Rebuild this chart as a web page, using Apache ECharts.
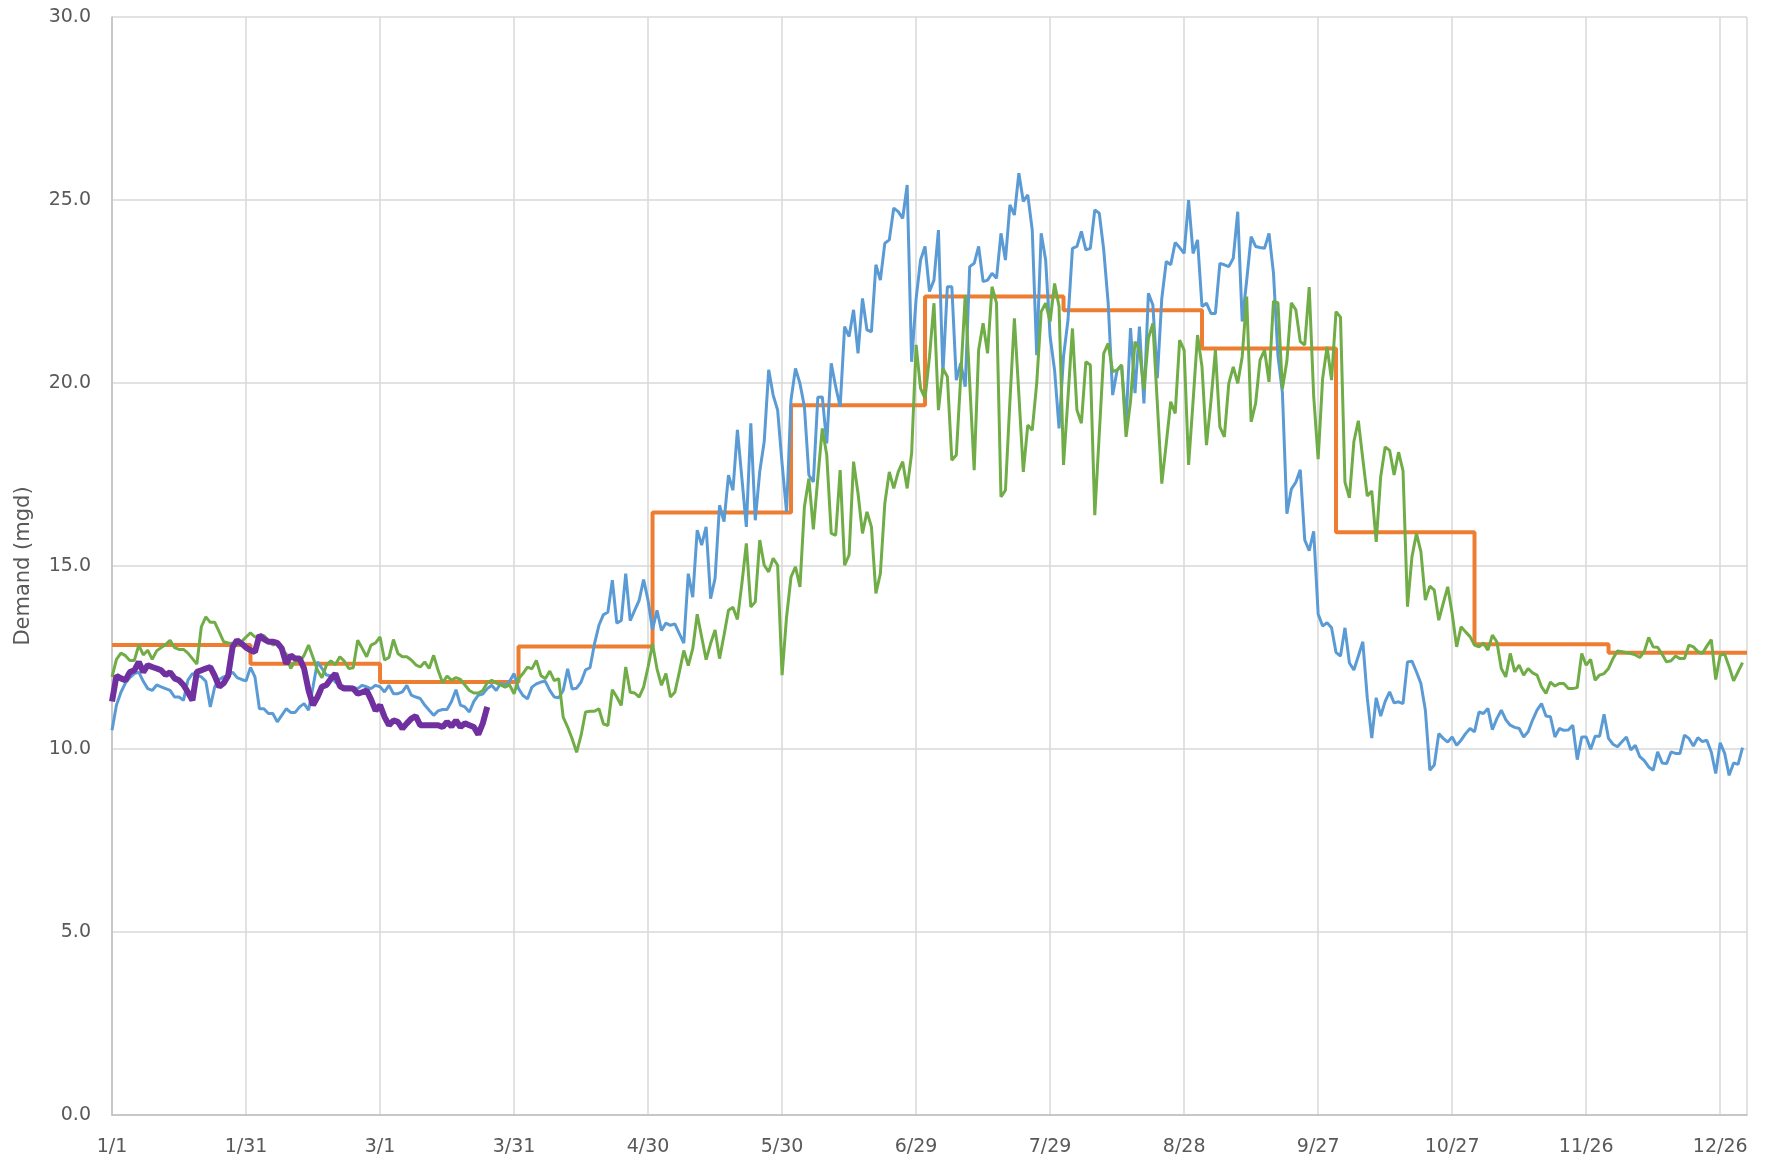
<!DOCTYPE html>
<html>
<head>
<meta charset="utf-8">
<script src="https://cdn.jsdelivr.net/npm/echarts@6/dist/echarts.min.js"></script>
<style>
html,body{margin:0;padding:0;background:#fff;}
#chart{width:1767px;height:1163px;}
</style>
</head>
<body>
<div id="chart"></div>
<script>
// x tick labels (every 30 days from 1/1, leap year)
const xTickLabels = ['1/1','1/31','3/1','3/31','4/30','5/30','6/29','7/29','8/28','9/27','10/27','11/26','12/26'];

// first day (day index) of each month and monthly values (orange step line)
const monthStartDays = [0, 31, 60, 91, 121, 152, 182, 213, 244, 274, 305, 335, 366];
const monthlyValues = [12.84, 12.33, 11.83, 12.80, 16.46, 19.39, 22.36, 21.99, 20.94, 15.92, 12.86, 12.63];

// daily values, day 0 = 1/1
const blueDaily = [
10.51, 11.2, 11.55, 11.8, 11.95, 12.06, 12.1, 11.85, 11.65, 11.6,
11.75, 11.7, 11.65, 11.6, 11.42, 11.42, 11.33, 11.88, 12.06, 12.02,
11.97, 11.85, 11.15, 11.7, 11.9, 11.97, 12.02, 12.1, 11.95, 11.9,
11.86, 12.23, 11.97, 11.1, 11.1, 10.97, 10.97, 10.74, 10.92, 11.1,
11.0, 11.0, 11.15, 11.24, 11.06, 11.7, 12.38, 12.2, 12.02, 12.0,
11.83, 11.74, 11.7, 11.7, 11.68, 11.65, 11.74, 11.7, 11.65, 11.74,
11.7, 11.56, 11.74, 11.51, 11.51, 11.56, 11.74, 11.47, 11.42, 11.38,
11.2, 11.06, 10.92, 11.04, 11.08, 11.08, 11.3, 11.62, 11.2, 11.15,
11.01, 11.3, 11.47, 11.5, 11.65, 11.74, 11.6, 11.79, 11.74, 11.85,
12.06, 11.65, 11.46, 11.37, 11.69, 11.78, 11.83, 11.85, 11.6, 11.42,
11.4, 11.6, 12.19, 11.64, 11.66, 11.83, 12.16, 12.22, 12.87, 13.38,
13.67, 13.74, 14.61, 13.44, 13.51, 14.79, 13.51, 13.79, 14.06, 14.63,
14.06, 13.26, 13.79, 13.24, 13.44, 13.38, 13.42, 13.15, 12.89, 14.79,
14.15, 15.98, 15.57, 16.07, 14.11, 14.66, 16.66, 16.21, 17.48, 17.07,
18.72, 17.4, 16.07, 18.9, 16.25, 17.58, 18.4, 20.36, 19.67, 19.26,
17.8, 16.48, 19.54, 20.4, 19.99, 19.35, 17.48, 17.3, 19.61, 19.62,
18.35, 20.54, 19.9, 19.35, 21.54, 21.27, 22.0, 20.81, 22.31, 21.45,
21.4, 23.23, 22.81, 23.82, 23.91, 24.78, 24.68, 24.5, 25.41, 20.58,
22.3, 23.36, 23.73, 22.5, 22.81, 24.18, 20.26, 22.63, 22.63, 20.08,
20.54, 19.9, 23.18, 23.27, 23.73, 22.77, 22.81, 23.0, 22.86, 24.09,
23.36, 24.87, 24.59, 25.73, 24.96, 25.14, 24.18, 20.76, 24.09, 23.36,
21.27, 20.35, 18.76, 20.72, 21.72, 23.68, 23.73, 24.14, 23.64, 23.68,
24.73, 24.64, 23.64, 22.18, 19.67, 20.35, 20.49, 18.9, 21.5, 19.72,
21.54, 19.44, 22.45, 22.13, 20.13, 22.31, 23.32, 23.23, 23.84, 23.7,
23.54, 25.0, 23.54, 23.91, 22.09, 22.18, 21.9, 21.9, 23.27, 23.23,
23.18, 23.41, 24.68, 21.68, 22.8, 24.0, 23.73, 23.7, 23.68, 24.09,
23.0, 20.75, 19.74, 16.43, 17.1, 17.29, 17.63, 15.71, 15.42, 15.95,
13.69, 13.36, 13.45, 13.31, 12.64, 12.54, 13.31, 12.35, 12.16, 12.54,
12.93, 11.39, 10.3, 11.4, 10.9, 11.3, 11.56, 11.26, 11.29, 11.24,
12.38, 12.4, 12.11, 11.79, 11.06, 9.42, 9.56, 10.42, 10.29, 10.19,
10.33, 10.1, 10.24, 10.42, 10.56, 10.47, 11.01, 10.97, 11.11, 10.53,
10.83, 11.06, 10.8, 10.65, 10.59, 10.56, 10.33, 10.47, 10.79, 11.06,
11.24, 10.9, 10.88, 10.33, 10.56, 10.51, 10.52, 10.65, 9.71, 10.33,
10.33, 9.99, 10.35, 10.35, 10.95, 10.29, 10.13, 10.06, 10.2, 10.33,
9.97, 10.1, 9.79, 9.68, 9.51, 9.42, 9.92, 9.62, 9.6, 9.92,
9.88, 9.88, 10.38, 10.29, 10.08, 10.31, 10.2, 10.24, 9.92, 9.33,
10.17, 9.88, 9.28, 9.62, 9.58, 10.04
];

const greenDaily = [
11.97, 12.45, 12.62, 12.55, 12.42, 12.42, 12.84, 12.57, 12.7, 12.45,
12.68, 12.77, 12.85, 12.97, 12.77, 12.72, 12.72, 12.62, 12.47, 12.32,
13.34, 13.61, 13.46, 13.46, 13.2, 12.93, 12.9, 12.88, 12.84, 12.93,
13.06, 13.17, 13.06, 13.08, 13.1, 12.97, 12.84, 12.9, 12.7, 12.6,
12.2, 12.4, 12.38, 12.56, 12.84, 12.5, 12.15, 11.95, 12.29, 12.41,
12.3, 12.52, 12.4, 12.2, 12.22, 12.97, 12.75, 12.52, 12.84, 12.9,
13.06, 12.43, 12.5, 12.99, 12.61, 12.52, 12.52, 12.43, 12.3, 12.24,
12.38, 12.2, 12.56, 12.15, 11.81, 11.99, 11.88, 11.95, 11.9, 11.75,
11.6, 11.53, 11.53, 11.6, 11.81, 11.88, 11.8, 11.75, 11.69, 11.75,
11.51, 11.92, 12.06, 12.24, 12.19, 12.42, 12.01, 11.92, 12.13, 11.87,
11.92, 10.87, 10.6, 10.28, 9.91, 10.37, 11.01, 11.03, 11.03, 11.1,
10.69, 10.64, 11.62, 11.42, 11.19, 12.24, 11.55, 11.53, 11.42, 11.69,
12.24, 12.87, 12.19, 11.74, 12.06, 11.42, 11.55, 12.1, 12.69, 12.28,
12.74, 13.68, 13.06, 12.44, 12.88, 13.25, 12.47, 13.11, 13.79, 13.87,
13.54, 14.52, 15.62, 13.88, 14.02, 15.71, 15.02, 14.84, 15.21, 15.02,
12.02, 13.6, 14.7, 14.98, 14.43, 16.62, 17.39, 16.0, 17.4, 18.76,
18.03, 15.89, 15.84, 17.62, 15.02, 15.3, 17.85, 16.98, 15.89, 16.48,
16.07, 14.25, 14.79, 16.71, 17.57, 17.12, 17.57, 17.85, 17.12, 18.08,
21.04, 19.85, 19.58, 20.72, 22.18, 19.26, 20.4, 20.17, 17.89, 18.03,
20.2, 22.4, 20.0, 17.62, 20.9, 21.63, 20.81, 22.63, 22.18, 16.89,
17.07, 19.5, 21.77, 19.7, 17.57, 18.85, 18.71, 19.99, 21.95, 22.18,
21.68, 22.72, 22.09, 17.76, 19.6, 21.49, 19.26, 18.9, 20.58, 20.49,
16.39, 18.6, 20.81, 21.08, 20.31, 20.35, 20.49, 18.53, 19.5, 21.13,
20.9, 19.81, 21.22, 21.63, 19.44, 17.25, 18.35, 19.49, 19.17, 21.17,
20.9, 17.76, 19.5, 21.31, 20.44, 18.3, 19.5, 20.9, 18.8, 18.53,
19.99, 20.44, 19.99, 20.72, 22.36, 18.94, 19.44, 20.63, 20.9, 20.03,
22.24, 22.19, 19.84, 20.6, 22.19, 22.0, 21.13, 21.04, 22.62, 19.64,
17.92, 20.12, 20.99, 20.08, 21.95, 21.8, 17.29, 16.86, 18.4, 18.97,
17.92, 16.91, 17.05, 15.66, 17.44, 18.25, 18.16, 17.49, 18.11, 17.6,
13.89, 15.25, 15.89, 15.39, 14.07, 14.45, 14.34, 13.52, 13.98, 14.43,
13.7, 12.79, 13.34, 13.2, 13.07, 12.84, 12.79, 12.9, 12.7, 13.11,
12.93, 12.2, 11.97, 12.61, 12.11, 12.29, 12.02, 12.2, 12.08, 12.02,
11.7, 11.52, 11.83, 11.72, 11.79, 11.79, 11.65, 11.65, 11.68, 12.61,
12.29, 12.45, 11.88, 12.02, 12.06, 12.2, 12.47, 12.68, 12.66, 12.63,
12.61, 12.57, 12.5, 12.66, 13.05, 12.79, 12.78, 12.59, 12.38, 12.41,
12.54, 12.47, 12.47, 12.84, 12.79, 12.66, 12.61, 12.81, 12.99, 11.9,
12.57, 12.59, 12.25, 11.86, 12.11, 12.36
];

const purpleDaily = [
11.3, 12.0, 11.93, 11.88, 12.1, 12.15, 12.38, 12.1, 12.29, 12.24,
12.2, 12.15, 12.02, 12.1, 11.93, 11.88, 11.75, 11.55, 11.33, 12.11,
12.15, 12.2, 12.24, 12.0, 11.7, 11.8, 12.0, 12.79, 12.97, 12.88,
12.77, 12.7, 12.65, 13.11, 13.0, 12.93, 12.93, 12.9, 12.75, 12.33,
12.56, 12.47, 12.47, 12.2, 11.6, 11.2, 11.42, 11.7, 11.75, 11.92,
12.06, 11.72, 11.65, 11.65, 11.65, 11.51, 11.55, 11.6, 11.35, 11.05,
11.2, 10.88, 10.65, 10.78, 10.74, 10.56, 10.7, 10.83, 10.9, 10.65,
10.65, 10.65, 10.65, 10.65, 10.6, 10.74, 10.62, 10.78, 10.6, 10.7,
10.65, 10.6, 10.4, 10.7, 11.15
];

const toPoints = arr => arr.map((v, i) => [i, v]);
const orangePoints = monthStartDays.map((d, i) => [d, monthlyValues[Math.min(i, monthlyValues.length - 1)]]);

const labelColor = '#595959';
const fontFamily = 'DejaVu Sans';

const chart = echarts.init(document.getElementById('chart'), null, {renderer: 'canvas'});
chart.setOption({
  animation: false,
  backgroundColor: '#ffffff',
  grid: {left: 112, right: 20, top: 17, bottom: 48, containLabel: false},
  xAxis: {
    type: 'value',
    min: 0,
    max: 366,
    interval: 30,
    axisLine: {show: true, lineStyle: {color: '#BFBFBF', width: 1.5}},
    axisTick: {show: false},
    splitLine: {show: true, lineStyle: {color: '#D9D9D9', width: 1.5}},
    axisLabel: {
      color: labelColor, fontFamily: fontFamily, fontSize: 19, margin: 23,
      showMaxLabel: false,
      formatter: v => (v % 30 === 0 && xTickLabels[v / 30] !== undefined) ? xTickLabels[v / 30] : ''
    }
  },
  yAxis: {
    type: 'value',
    min: 0,
    max: 30,
    interval: 5,
    name: 'Demand (mgd)',
    nameLocation: 'middle',
    nameGap: 78,
    nameRotate: 90,
    nameTextStyle: {color: labelColor, fontFamily: fontFamily, fontSize: 21},
    axisLine: {show: true, lineStyle: {color: '#BFBFBF', width: 1.5}},
    axisTick: {show: false},
    splitLine: {show: true, lineStyle: {color: '#D9D9D9', width: 1.5}},
    axisLabel: {
      color: labelColor, fontFamily: fontFamily, fontSize: 19, margin: 21,
      formatter: v => v.toFixed(1)
    }
  },
  series: [
    {
      name: 'Monthly', type: 'line', step: 'end', data: orangePoints,
      showSymbol: false, symbol: 'none',
      lineStyle: {color: '#ED7D31', width: 4}, z: 2
    },
    {
      name: 'Blue', type: 'line', data: toPoints(blueDaily),
      showSymbol: false, symbol: 'none',
      lineStyle: {color: '#5B9BD5', width: 3}, z: 3
    },
    {
      name: 'Green', type: 'line', data: toPoints(greenDaily),
      showSymbol: false, symbol: 'none',
      lineStyle: {color: '#70AD47', width: 3}, z: 4
    },
    {
      name: 'Purple', type: 'line', data: toPoints(purpleDaily),
      showSymbol: false, symbol: 'none',
      lineStyle: {color: '#7030A0', width: 6}, z: 5
    }
  ]
});
</script>
</body>
</html>
